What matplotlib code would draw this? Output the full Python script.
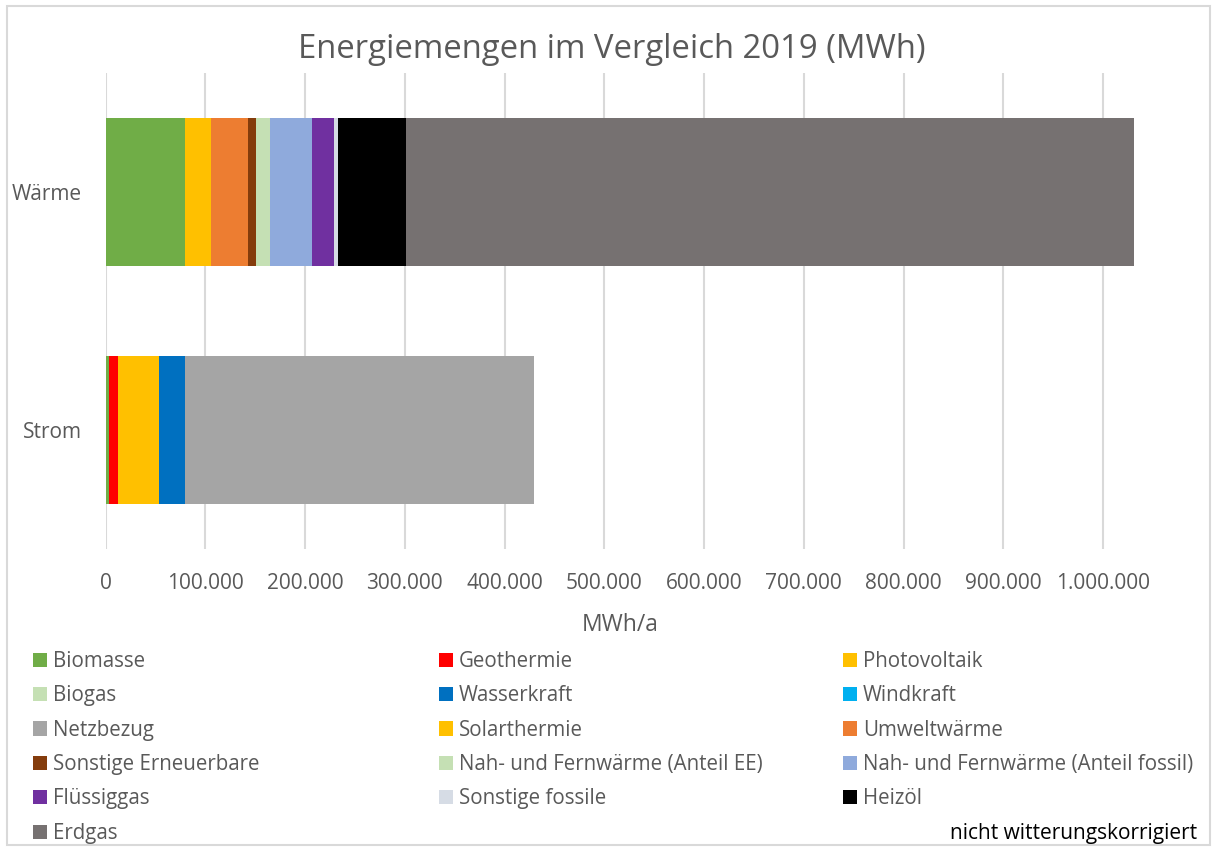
import matplotlib
matplotlib.use("Agg")
import matplotlib.pyplot as plt
from matplotlib.patches import Patch, Rectangle
from matplotlib.ticker import FuncFormatter

categories = ["Strom", "Wärme"]

series_names = [
    "Biomasse", "Geothermie", "Photovoltaik",
    "Biogas", "Wasserkraft", "Windkraft",
    "Netzbezug", "Solarthermie", "Umweltwärme",
    "Sonstige Erneuerbare", "Nah- und Fernwärme (Anteil EE)", "Nah- und Fernwärme (Anteil fossil)",
    "Flüssiggas", "Sonstige fossile", "Heizöl",
    "Erdgas",
]
series_colors = [
    "#70AD47", "#FF0000", "#FFC000",
    "#C5E0B4", "#0070C0", "#00B0F0",
    "#A5A5A5", "#FFC000", "#ED7D31",
    "#843C0C", "#C5E0B4", "#8FAADC",
    "#7030A0", "#D6DCE5", "#000000",
    "#767171",
]
# values: [Strom, Wärme] in MWh/a
biomasse = [4000, 80000]
geothermie = [9000, 0]
photovoltaik = [41000, 0]
biogas = [0, 0]
wasserkraft = [26000, 0]
windkraft = [0, 0]
netzbezug = [350000, 0]
solarthermie = [0, 26000]
umweltwaerme = [0, 37000]
sonstige_ee = [0, 8000]
nah_ee = [0, 14000]
nah_fossil = [0, 42000]
fluessiggas = [0, 22000]
sonstige_fossile = [0, 4000]
heizoel = [0, 68000]
erdgas = [0, 730000]

series_values = [
    biomasse, geothermie, photovoltaik, biogas, wasserkraft, windkraft,
    netzbezug, solarthermie, umweltwaerme, sonstige_ee, nah_ee, nah_fossil,
    fluessiggas, sonstige_fossile, heizoel, erdgas,
]

x_ticks = [0, 100000, 200000, 300000, 400000, 500000, 600000, 700000, 800000, 900000, 1000000]

FONT = ["Open Sans", "DejaVu Sans"]
TXT = "#595959"
plt.rcParams["font.family"] = FONT

W, H = 1215, 850
fig = plt.figure(figsize=(W / 100, H / 100), dpi=100)
fig.patches.append(Rectangle((7 / W, 1 - 845 / H), 1203 / W, 839 / H, transform=fig.transFigure,
                             fill=False, edgecolor="#D9D9D9", linewidth=1.5))

ax = fig.add_axes([105.5 / W, 1 - 549 / H, (1134 - 105.5) / W, (549 - 73) / H])
ypos = list(range(len(categories)))
left = [0.0] * len(categories)
handles = []
for name, col, vals in zip(series_names, series_colors, series_values):
    ax.barh(ypos, vals, left=left, height=0.62, color=col, edgecolor="none", zorder=3)
    left = [l + v for l, v in zip(left, vals)]
    handles.append(Patch(facecolor=col, edgecolor="none", label=name))

ax.set_xlim(0, max(left))
ax.set_ylim(-0.5, 1.5)
ax.set_yticks(ypos)
ax.set_yticklabels(categories)
ax.set_xticks(x_ticks)
ax.xaxis.set_major_formatter(FuncFormatter(lambda v, p: f"{int(v):,}".replace(",", ".")))
ax.tick_params(axis="both", length=0, labelsize=15, colors=TXT)
ax.tick_params(axis="x", pad=17)
ax.tick_params(axis="y", pad=17)
ax.grid(axis="x", color="#D9D9D9", linewidth=1.5, zorder=0)
for s in ax.spines.values():
    s.set_visible(False)
ax.set_xlabel("MWh/a", fontsize=16.5, color=TXT, labelpad=14)

fig.text(612 / W, 1 - 50 / H, "Energiemengen im Vergleich 2019 (MWh)", ha="center", va="center",
         fontsize=23.7, color=TXT)

col_x = [33, 439, 843]
for c in range(3):
    hs = handles[c::3]
    fig.legend(handles=hs, loc="upper left", bbox_to_anchor=(col_x[c] / W, 1 - 651 / H),
               frameon=False, fontsize=14.8, labelcolor=TXT, handlelength=0.68,
               handleheight=0.68, handletextpad=0.3, labelspacing=0.65, borderpad=0,
               borderaxespad=0)

fig.text(1197 / W, 1 - 834 / H, "nicht witterungskorrigiert", ha="right", va="center",
         fontsize=15, color="black")

fig.savefig("out.png", dpi=100)
